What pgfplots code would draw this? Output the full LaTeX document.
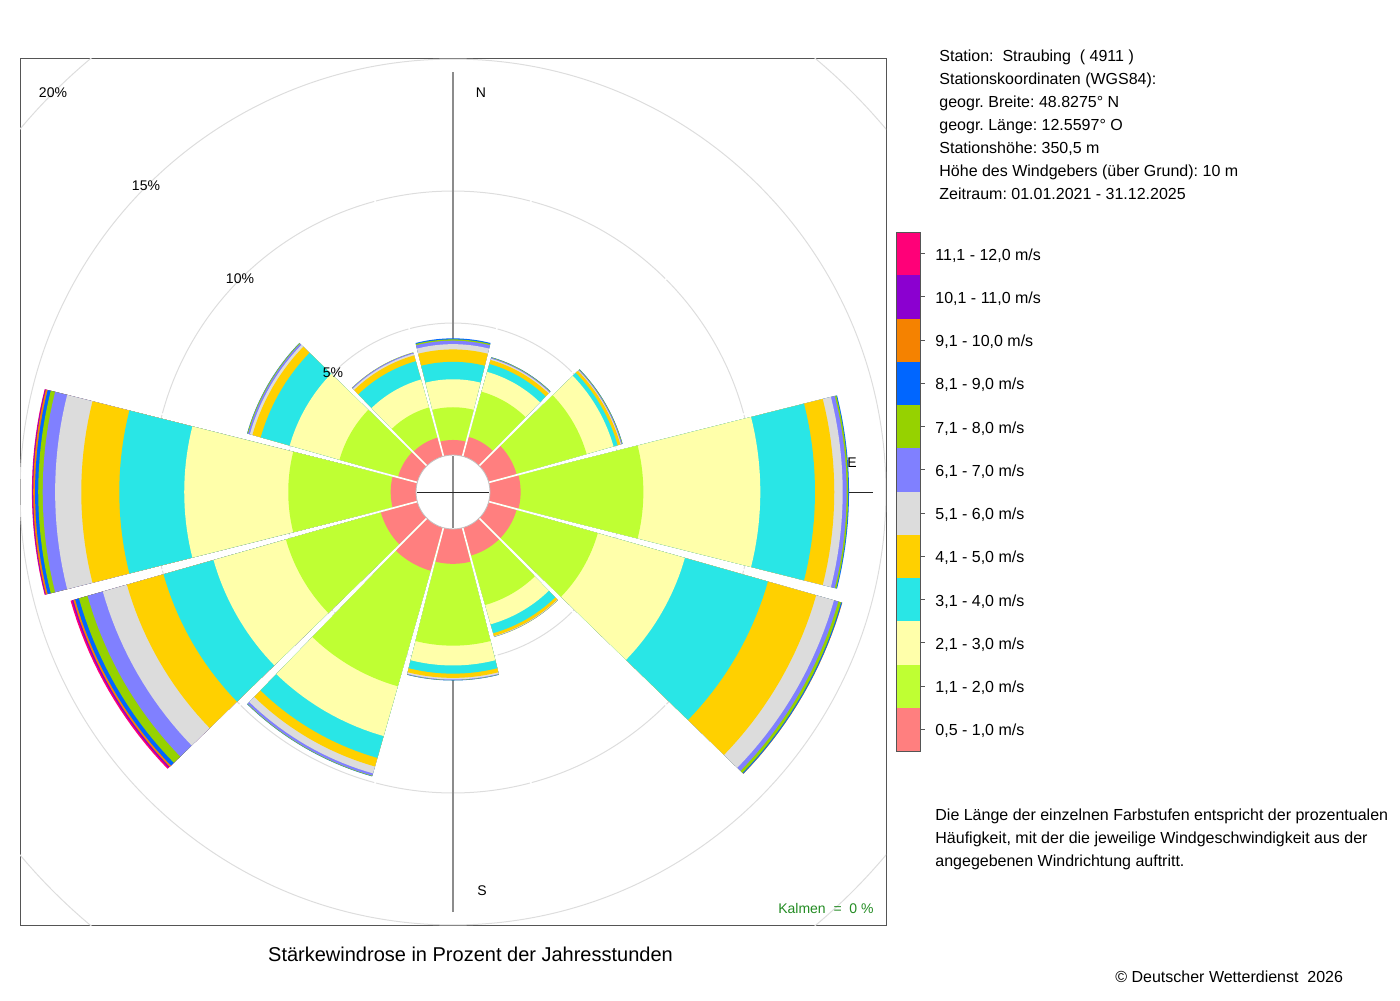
\documentclass[border=0pt]{standalone}
\usepackage{pgfplots}
\usepackage{pgfplotstable}
\pgfplotsset{compat=1.18}
\usepackage{fontspec}
\setmainfont{Liberation Sans}
\frenchspacing

\definecolor{bin1}{HTML}{FF7F7F}
\definecolor{bin2}{HTML}{BFFF33}
\definecolor{bin3}{HTML}{FFFFAA}
\definecolor{bin4}{HTML}{29E6E6}
\definecolor{bin5}{HTML}{FFD000}
\definecolor{bin6}{HTML}{DCDCDC}
\definecolor{bin7}{HTML}{8080FF}
\definecolor{bin8}{HTML}{96D200}
\definecolor{bin9}{HTML}{0066FF}
\definecolor{bin10}{HTML}{F58200}
\definecolor{bin11}{HTML}{8B00D0}
\definecolor{bin12}{HTML}{FF0078}
\definecolor{gridgray}{HTML}{DDDDDD}
\definecolor{framegray}{HTML}{555555}
\definecolor{axisgray}{HTML}{8C8C8C}
\definecolor{kalmen}{HTML}{228B22}

% percentage of hours per direction (compass deg) and speed class
\pgfplotstableread{
dir b1 b2 b3 b4 b5 b6 b7 b8 b9 b10 b11 b12
0   0.57 1.24 1.06 0.66 0.47 0.20 0.13 0.05 0.04 0 0 0
30  0.77 1.78 0.78 0.31 0.16 0.05 0.03 0.02 0.01 0 0 0
60  1.10 2.76 1.06 0.16 0.11 0.03 0.03 0.02 0.01 0 0 0
90  1.16 4.65 4.43 2.07 0.73 0.32 0.15 0.06 0.03 0 0 0
120 1.10 3.20 3.43 3.27 1.90 0.70 0.17 0.11 0.04 0.01 0 0
150 1.10 1.95 0.76 0.35 0.11 0.02 0.01 0.01 0 0 0 0
180 1.32 3.10 0.75 0.31 0.16 0.06 0.02 0.01 0.01 0 0 0
210 1.70 4.55 1.96 0.86 0.34 0.27 0.09 0.02 0.01 0 0 0
240 1.44 3.74 2.85 1.97 1.44 0.95 0.60 0.34 0.15 0.07 0.05 0.06
270 0.96 3.88 3.94 2.46 1.44 0.99 0.47 0.17 0.12 0.07 0.03 0.02
300 0.76 2.31 1.96 1.14 0.33 0.10 0.07 0.03 0.01 0 0 0
330 0.74 1.19 1.10 0.72 0.23 0.07 0.04 0.01 0 0 0 0
}\windtable

% #1 compass angle, #2 outer radius (data units), #3 colour
\newcommand\windsector[3]{%
  \gdef\wcoords{(0,0)}%
  \foreach \i in {0,...,18}{%
    \pgfmathsetmacro\wang{#1-14.125+\i*28.25/18}%
    \pgfmathsetmacro\wx{(#2)*sin(\wang)}%
    \pgfmathsetmacro\wy{(#2)*cos(\wang)}%
    \xdef\wcoords{\wcoords (\wx,\wy)}%
  }%
  \edef\wtemp{\noexpand\addplot[fill=#3, draw=none, mark=none, forget plot] coordinates {\wcoords};}%
  \wtemp
}

\newcommand\legentry[2]{%
  \pgfmathsetmacro\ltop{-116-(12-#1)*21.625}%
  \pgfmathsetmacro\lbot{\ltop-21.625}%
  \pgfmathsetmacro\lmid{\ltop-10.8125}%
  \pgfmathsetmacro\lbase{\lmid-3.3}%
  \fill[bin#1] (448pt,\ltop pt) rectangle (460pt,\lbot pt);
  \draw[framegray, line width=0.4pt] (460pt,\lmid pt) -- (462.5pt,\lmid pt);
  \node[anchor=base west, inner sep=0pt, font=\fontsize{8}{9.6}\selectfont] at (467.5pt,\lbase pt) {#2};
}

\begin{document}
\begin{tikzpicture}
\path[use as bounding box] (0,0) rectangle (700pt,-500pt);
\begin{axis}[
  at={(10pt,-462.5pt)}, anchor=south west,
  scale only axis, width=433pt, height=433pt,
  xmin=-16.4, xmax=16.4, ymin=-16.4, ymax=16.4,
  xtick=\empty, ytick=\empty,
  axis line style={draw=framegray, line width=0.5pt},
]
% grid circles 5, 10, 15, 20 %
\draw[gridgray, line width=0.5pt] (axis cs:0,0) circle[radius=84.48pt];
\draw[gridgray, line width=0.5pt] (axis cs:0,0) circle[radius=150.48pt];
\draw[gridgray, line width=0.5pt] (axis cs:0,0) circle[radius=216.48pt];
\draw[gridgray, line width=0.5pt] (axis cs:0,0) circle[radius=282.48pt];
% axes cross
\draw[axisgray, line width=0.8pt] (axis cs:0,-15.91) -- (axis cs:0,15.91);
\draw[black!85, line width=0.5pt] (axis cs:-15.91,0) -- (axis cs:15.91,0);
% sectors
\foreach \r in {0,...,11}{%
  \pgfplotstablegetelem{\r}{dir}\of\windtable
  \xdef\wdir{\pgfplotsretval}%
  \gdef\wcum{1.40}%
  \foreach \k in {1,...,12}{%
    \pgfplotstablegetelem{\r}{b\k}\of\windtable
    \xdef\wval{\pgfplotsretval}%
    \pgfmathsetmacro\wc{\wcum+\wval}%
    \xdef\wcum{\wc}%
    \expandafter\xdef\csname wcum\k\endcsname{\wc}%
    \expandafter\xdef\csname wval\k\endcsname{\wval}%
  }%
  \foreach \k in {12,11,...,1}{%
    \ifdim\csname wval\k\endcsname pt>0pt
      \windsector{\wdir}{\csname wcum\k\endcsname}{bin\k}%
    \fi
  }%
}
% separators
\pgfplotsinvokeforeach{15,45,...,345}{%
  \draw[white, line width=0.8pt] (axis cs:0,0) -- (axis cs:{16*sin(#1)},{16*cos(#1)});
}
% centre hole
\fill[white] (axis cs:0,0) circle[radius=18.48pt];
\draw[gridgray!70!gray, line width=0.4pt] (axis cs:0,0) circle[radius=18.48pt];
\draw[axisgray, line width=0.8pt] (axis cs:0,-1.38) -- (axis cs:0,1.38);
\draw[black!85, line width=0.5pt] (axis cs:-1.38,0) -- (axis cs:1.38,0);
\end{axis}

% ring labels
\node[font=\fontsize{7}{8}\selectfont] at (166.5pt,-186.5pt) {5\%};
\node[font=\fontsize{7}{8}\selectfont] at (120pt,-139.5pt) {10\%};
\node[font=\fontsize{7}{8}\selectfont] at (73pt,-93pt) {15\%};
\node[font=\fontsize{7}{8}\selectfont] at (26.5pt,-46.5pt) {20\%};
\node[font=\fontsize{7}{8}\selectfont] at (240.5pt,-46.5pt) {N};
\node[font=\fontsize{7}{8}\selectfont] at (426pt,-231.5pt) {E};
\node[font=\fontsize{7}{8}\selectfont] at (241pt,-445.5pt) {S};
\node[anchor=base east, inner sep=0pt, text=kalmen, font=\fontsize{7}{8}\selectfont] at (437pt,-456.5pt) {Kalmen\ \ =\ \ 0 \%};

% title
\node[font=\fontsize{10}{12}\selectfont] at (235.25pt,-477pt) {Stärkewindrose in Prozent der Jahresstunden};

% station info
\begin{scope}[every node/.style={anchor=base west, inner sep=0pt, font=\fontsize{8}{9.6}\selectfont}]
\node at (469.5pt,-30.6pt) {Station:\ \ Straubing\ \ ( 4911 )};
\node at (469.5pt,-42.1pt) {Stationskoordinaten (WGS84):};
\node at (469.5pt,-53.6pt) {geogr. Breite: 48.8275° N};
\node at (469.5pt,-65.1pt) {geogr. Länge: 12.5597° O};
\node at (469.5pt,-76.6pt) {Stationshöhe: 350,5 m};
\node at (469.5pt,-88.1pt) {Höhe des Windgebers (über Grund): 10 m};
\node at (469.5pt,-99.6pt) {Zeitraum: 01.01.2021 - 31.12.2025};
\node at (467.5pt,-410.1pt) {Die Länge der einzelnen Farbstufen entspricht der prozentualen};
\node at (467.5pt,-421.6pt) {Häufigkeit, mit der die jeweilige Windgeschwindigkeit aus der};
\node at (467.5pt,-433.1pt) {angegebenen Windrichtung auftritt.};
\node at (557.5pt,-491.2pt) {© Deutscher Wetterdienst\ \ 2026};
\end{scope}

% colour legend
\legentry{12}{11,1 - 12,0 m/s}
\legentry{11}{10,1 - 11,0 m/s}
\legentry{10}{9,1 - 10,0 m/s}
\legentry{9}{8,1 - 9,0 m/s}
\legentry{8}{7,1 - 8,0 m/s}
\legentry{7}{6,1 - 7,0 m/s}
\legentry{6}{5,1 - 6,0 m/s}
\legentry{5}{4,1 - 5,0 m/s}
\legentry{4}{3,1 - 4,0 m/s}
\legentry{3}{2,1 - 3,0 m/s}
\legentry{2}{1,1 - 2,0 m/s}
\legentry{1}{0,5 - 1,0 m/s}
\draw[framegray, line width=0.5pt] (448pt,-116pt) rectangle (460pt,-375.5pt);
\end{tikzpicture}
\end{document}
